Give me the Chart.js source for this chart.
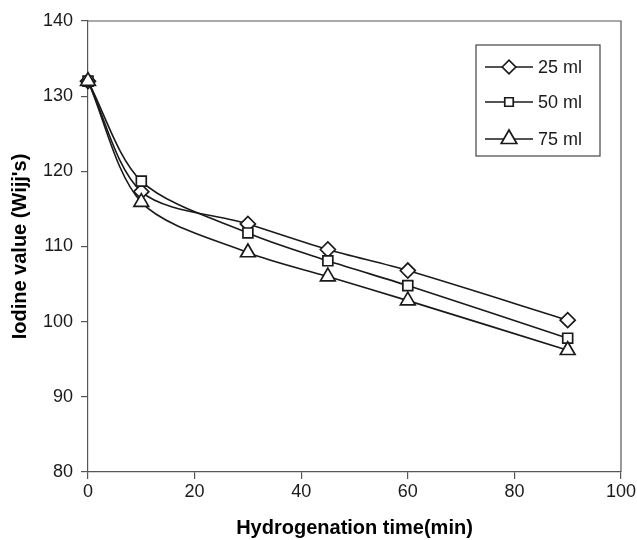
<!DOCTYPE html>
<html>
<head>
<meta charset="utf-8">
<script src="https://cdn.jsdelivr.net/npm/chart.js"></script>
<style>
  body { margin: 0; background: #fff; }
  #wrap { width: 637px; height: 540px; }
</style>
</head>
<body>
<div id="wrap"><canvas id="iodineChart" width="637" height="540"></canvas></div>
<script>
// Data
const times = [0, 10, 30, 45, 60, 90];
const ml25 = [132, 117.3, 113.0, 109.6, 106.8, 100.2];
const ml50 = [132, 118.7, 111.8, 108.1, 104.8, 97.8];
const ml75 = [132, 115.9, 109.2, 106.0, 102.8, 96.2];
const seriesLabels = ["25 ml", "50 ml", "75 ml"];
const xTicks = [0, 20, 40, 60, 80, 100];
const yTicks = [80, 90, 100, 110, 120, 130, 140];

const FONT = "'Liberation Sans', Arial, sans-serif";
const INK = "#1a1a1a";
const AXIS = "#555";

function pts(ys) {
  return times.map((t, i) => ({ x: t, y: ys[i] }));
}

function series(label, ys, style, radius, order) {
  return {
    label: label,
    data: pts(ys),
    order: order,
    borderColor: INK,
    borderWidth: 1.6,
    pointStyle: style,
    pointRadius: radius,
    pointHoverRadius: radius,
    pointBackgroundColor: "#fff",
    pointBorderColor: INK,
    pointBorderWidth: 1.7,
    tension: 0.3,
    clip: false,
    fill: false
  };
}

// frame round the plot area
const framePlugin = {
  id: "frame",
  beforeDatasetsDraw(chart) {
    const { ctx, chartArea: a } = chart;
    ctx.save();
    ctx.strokeStyle = AXIS;
    ctx.lineWidth = 1.2;
    ctx.beginPath();
    ctx.moveTo(a.left, a.top);
    ctx.lineTo(a.right, a.top);
    ctx.lineTo(a.right, a.bottom);
    ctx.stroke();
    ctx.restore();
  }
};

// boxed legend with line + marker samples
const legendBox = {
  id: "legendBox",
  afterDraw(chart) {
    const ctx = chart.ctx;
    const box = { x: 476, y: 45, w: 124, h: 111 };
    const rows = [67, 102, 139];
    const legendRadius = [6.8, 6, 9];
    ctx.save();
    ctx.fillStyle = "#fff";
    ctx.fillRect(box.x, box.y, box.w, box.h);
    ctx.strokeStyle = "#444";
    ctx.lineWidth = 1.2;
    ctx.strokeRect(box.x, box.y, box.w, box.h);
    chart.data.datasets.forEach((ds, i) => {
      const y = rows[i];
      ctx.strokeStyle = INK;
      ctx.lineWidth = 1.5;
      ctx.beginPath();
      ctx.moveTo(485, y);
      ctx.lineTo(533, y);
      ctx.stroke();
      ctx.fillStyle = "#fff";
      ctx.strokeStyle = INK;
      ctx.lineWidth = 1.7;
      Chart.helpers.drawPoint(ctx, {
        pointStyle: ds.pointStyle,
        radius: legendRadius[i],
        borderWidth: 1.7,
        rotation: 0
      }, 509, y);
      ctx.fillStyle = INK;
      ctx.font = "18px " + FONT;
      ctx.textAlign = "left";
      ctx.textBaseline = "middle";
      ctx.fillText(ds.label, 538, y + 1);
    });
    ctx.restore();
  }
};

new Chart(document.getElementById("iodineChart"), {
  type: "line",
  data: {
    datasets: [
      series(seriesLabels[0], ml25, "rectRot", 7.5, 3),
      series(seriesLabels[1], ml50, "rect", 7, 2),
      series(seriesLabels[2], ml75, "triangle", 8.5, 1)
    ]
  },
  options: {
    responsive: false,
    animation: false,
    layout: { padding: { top: 21, right: 16, left: 0, bottom: 0 } },
    plugins: {
      legend: { display: false },
      tooltip: { enabled: false }
    },
    scales: {
      x: {
        type: "linear",
        min: 0,
        max: 100,
        afterBuildTicks: (s) => { s.ticks = xTicks.map(v => ({ value: v })); },
        afterFit: (s) => { s.height = 68; s.paddingLeft = 0; s.paddingRight = 0; },
        grid: { drawOnChartArea: false, drawTicks: true, tickLength: 7, color: AXIS, lineWidth: 1.2 },
        border: { display: true, color: AXIS, width: 1.2 },
        ticks: { color: INK, padding: 2, font: { family: FONT, size: 18 } },
        title: {
          display: true,
          text: "Hydrogenation time(min)",
          color: "#000",
          padding: { top: 0, bottom: 0 },
          font: { family: FONT, size: 20, weight: "bold" }
        }
      },
      y: {
        min: 80,
        max: 140,
        afterBuildTicks: (s) => { s.ticks = yTicks.map(v => ({ value: v })); },
        afterFit: (s) => { s.width = 88; s.paddingTop = 0; s.paddingBottom = 0; },
        grid: { drawOnChartArea: false, drawTicks: true, tickLength: 7, color: AXIS, lineWidth: 1.2 },
        border: { display: true, color: AXIS, width: 1.2 },
        ticks: { color: INK, padding: 8, font: { family: FONT, size: 18 } },
        title: {
          display: true,
          text: "Iodine value (Wijj's)",
          color: "#000",
          padding: { top: 8, bottom: 0 },
          font: { family: FONT, size: 20, weight: "bold" }
        }
      }
    }
  },
  plugins: [framePlugin, legendBox]
});
</script>
</body>
</html>
